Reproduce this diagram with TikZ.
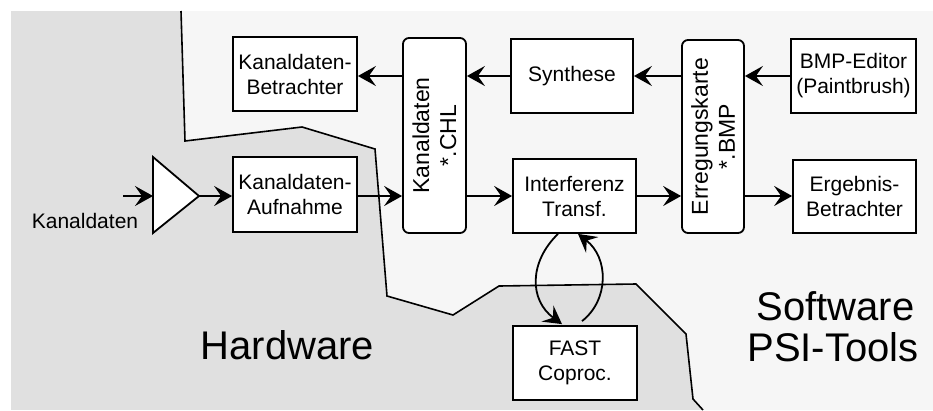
\documentclass[tikz,border=0pt]{standalone}
\usepackage{fontspec}
\setmainfont{Liberation Sans}
\usetikzlibrary{arrows.meta}
\definecolor{hwgray}{RGB}{224,224,224}
\definecolor{swgray}{RGB}{246,246,246}
\tikzset{
  box/.style={draw, line width=1.8pt, fill=white, inner sep=0pt, align=center,
    font=\fontsize{21}{25}\selectfont},
  rbox/.style={box, rounded corners=6pt, rotate=90, font=\fontsize{23}{27}\selectfont},
  arr/.style={line width=1.8pt, arrows={-Stealth[length=18pt,width=20pt,inset=7pt]}},
  border/.style={line width=1.6pt},
  big/.style={font=\fontsize{40}{41}\selectfont, inner sep=0pt}
}
\begin{document}
\begin{tikzpicture}[x=1pt,y=-1pt]
\useasboundingbox (0,0) rectangle (933,410);
\fill[white] (0,0) rectangle (933,410);
\fill[hwgray] (11,11) rectangle (933,410);
\fill[swgray] (181,11) -- (185,141) -- (302,127) -- (375,149) -- (387,296) -- (453,315)
  -- (499,286) -- (636,284) -- (686,334) -- (693,399) -- (703,410) -- (933,410) -- (933,11) -- cycle;
\draw[border] (181,11) -- (185,141) -- (302,127) -- (375,149) -- (387,296) -- (453,315)
  -- (499,286) -- (636,284) -- (686,334) -- (693,399) -- (703,410);

% boxes
\node[box, minimum width=124pt, minimum height=74pt] (betr) at (295,74) {Kanaldaten-\\Betrachter};
\node[box, minimum width=124pt, minimum height=75pt] (aufn) at (295,194.5) {Kanaldaten-\\Aufnahme};
\node[rbox, minimum width=195pt, minimum height=63pt] (chl) at (434.5,135.5) {Kanaldaten\\*.CHL};
\node[box, minimum width=122pt, minimum height=74pt] (synth) at (572,76) {Synthese};
\node[box, minimum width=123pt, minimum height=74pt] (interf) at (574.5,196) {Interferenz\\Transf.};
\node[rbox, minimum width=193pt, minimum height=62pt] (bmp) at (713,136.5) {Erregungskarte\\*.BMP};
\node[box, minimum width=125pt, minimum height=74pt] (edit) at (853.5,76) {BMP-Editor\\(Paintbrush)};
\node[box, minimum width=123pt, minimum height=73pt] (ergeb) at (854.5,196.5) {Ergebnis-\\Betrachter};
\node[box, minimum width=124pt, minimum height=74pt] (fast) at (575,363) {FAST\\Coproc.};

% amplifier
\draw[line width=1.8pt, fill=white] (153,157) -- (199,196) -- (153,233) -- cycle;
\coordinate (ampin) at (153,196);
\coordinate (ampout) at (199,196);
\coordinate (src) at (123,196);

\node[font=\fontsize{21}{25}\selectfont, inner sep=0pt] (lbl) at (85,221) {Kanaldaten};

% arrows bottom row
\draw[arr] (src) -- (ampin);
\draw[arr] (ampout) -- (aufn.west |- ampout);
\draw[arr] (aufn.east |- ampout) -- (chl.north |- ampout);
\draw[arr] (chl.south |- ampout) -- (interf.west);
\draw[arr] (interf.east) -- (bmp.north |- interf.east);
\draw[arr] (bmp.south |- interf.east) -- (ergeb.west |- interf.east);

% arrows top row
\draw[arr] (edit.west) -- (bmp.south |- edit.west);
\draw[arr] (bmp.north |- edit.west) -- (synth.east);
\draw[arr] (synth.west) -- (chl.south |- synth.west);
\draw[arr] (chl.north |- synth.west) -- (betr.east |- synth.west);

% loop
\draw[arr] ([xshift=-16.5pt]interf.south) .. controls (529,262) and (529,300) .. ([xshift=-13pt,yshift=1pt]fast.north);
\draw[arr] ([xshift=7pt,yshift=4pt]fast.north) .. controls (609,300) and (609,258) .. ([xshift=3.5pt]interf.south);

% region labels
\node[big, anchor=base] (hw) at (287.5,359) {Hardware};
\node[big, anchor=base] (sw1) at (835.5,320.7) {Software};
\node[big, anchor=base] (sw2) at (833,361.7) {PSI-Tools};
\end{tikzpicture}
\end{document}
